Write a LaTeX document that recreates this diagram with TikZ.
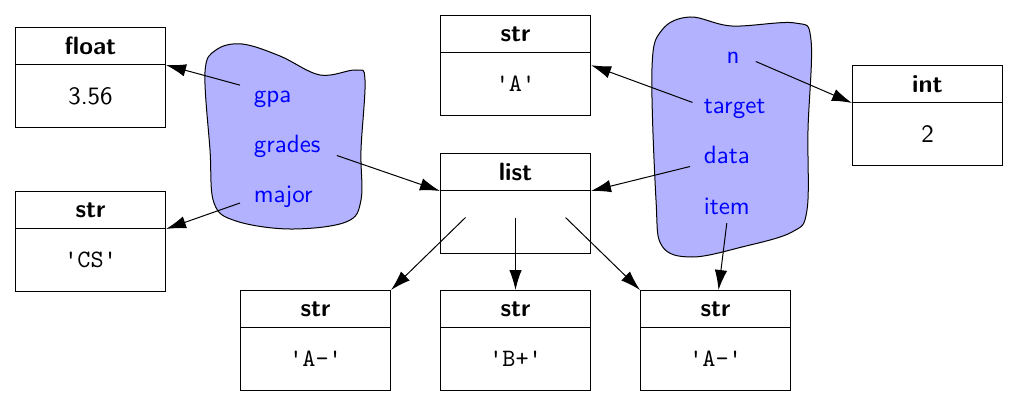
\documentclass[tikz,border=0pt]{standalone}
\usetikzlibrary{arrows.meta}
\newcommand{\pystr}[1]{\texttt{\textquotesingle#1\textquotesingle}}
\begin{document}
\begin{tikzpicture}[x=0.4pt,y=-0.4pt,%
% common options for the type boxes:
head/.style = {draw, anchor=north west, minimum width=60pt,
            minimum height=14.8pt, inner sep=0, font=\sffamily\bfseries},
val/.style = {draw, anchor=north west, minimum width=60pt,
            minimum height=25.2pt, inner sep=0, font=\sffamily},
% common options for the names:
var/.style = {text=blue, font=\sffamily, anchor=base west},
blob/.style = {draw, fill=blue!30},
ref/.style = {-{Latex[length=8pt,width=5pt]}}]
\useasboundingbox (0,0) rectangle (1020,406);
% frames
\draw[blob] plot[smooth cycle, tension=0.6] coordinates {(205,72) (216,50)
  (242,44) (280,56) (320,75) (356,70) (365,80) (361,150) (361,200) (346,222)
  (290,229) (236,221) (214,203) (210,150)};
\draw[blob] plot[smooth cycle, tension=0.6] coordinates {(652,68) (662,30)
  (690,17) (732,26) (795,23) (811,40) (808,130) (807,210) (792,232) (742,247)
  (692,257) (662,246) (656,200)};
\node[var] (gpa) at (245,103) {gpa};
\node[var] (grades) at (245,153) {grades};
\node[var] (major) at (245,203) {major};
\node[var,anchor=base] (n) at (733,64) {n};
\node[var] (target) at (695,114) {target};
\node[var] (data) at (695,164) {data};
\node[var] (item) at (695,214) {item};
% objects
\node[head] (fltT) at (15,27) {float};
\node[val] (fltV) at (15,64) {3.56};
\node[head] (csT) at (15,191) {str};
\node[val] (csV) at (15,228) {\pystr{CS}};
\node[head] (sAT) at (440,15) {str};
\node[val] (sAV) at (440,52) {\pystr{A}};
\node[head] (lstT) at (440,153) {list};
\node[val] (lstV) at (440,190) {};
\node[head] (intT) at (852,65) {int};
\node[val] (intV) at (852,102) {2};
\node[head] (a1T) at (240,290) {str};
\node[val] (a1V) at (240,327) {\pystr{A-}};
\node[head] (bpT) at (440,290) {str};
\node[val] (bpV) at (440,327) {\pystr{B+}};
\node[head] (a2T) at (640,290) {str};
\node[val] (a2V) at (640,327) {\pystr{A-}};
\coordinate (e0) at ([xshift=-20pt,yshift=1.8pt]lstV.center);
\coordinate (e1) at ([yshift=1.8pt]lstV.center);
\coordinate (e2) at ([xshift=20pt,yshift=1.8pt]lstV.center);
% references
\draw[ref] ([xshift=-2pt,yshift=-1pt]gpa.north west) to (fltT.south east);
\draw[ref] ([xshift=3pt,yshift=-1pt]grades.base east) to (lstT.south west);
\draw[ref] ([xshift=-2pt]major.base west) to (csT.south east);
\draw[ref] ([xshift=3pt,yshift=1pt]n.base east) to (intT.south west);
\draw[ref] ([xshift=-1pt]target.170) to (sAV.14);
\draw[ref] ([xshift=-2pt,yshift=-1pt]data.base west) to (lstT.south east);
\draw[ref] (item.south) to ([xshift=1.2pt]a2T.north);
\draw[ref] (e0) to (a1T.north east);
\draw[ref] (e1) to (bpT.north);
\draw[ref] (e2) to (a2T.north west);
\end{tikzpicture}
\end{document}
